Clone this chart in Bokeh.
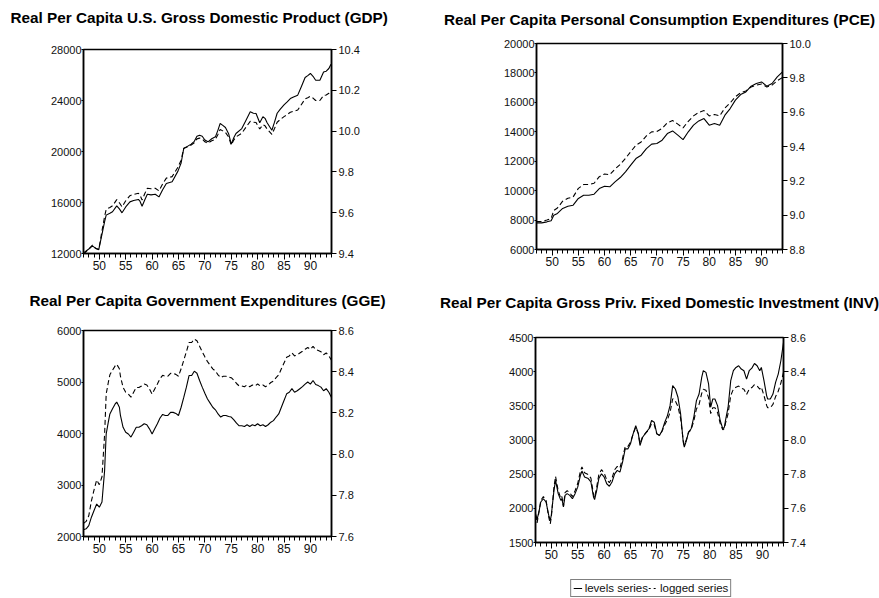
import numpy as np
from bokeh.plotting import figure
from bokeh.models import (Range1d, LinearAxis, FixedTicker, PrintfTickFormatter,
                          Legend, LegendItem, CustomJSTickFormatter, Spacer, Title)
from bokeh.layouts import column, row
from bokeh.embed import file_html
from bokeh.resources import INLINE

FONT = "Liberation Sans"

# ---------------- data (levels series; logged series = ln(levels)) ----------------
gdp_years = [1947.0, 1947.5, 1948.0, 1948.7, 1949.3, 1949.9, 1950.5, 1951.0, 1951.3, 1952.0,
             1952.5, 1953.3, 1953.8, 1954.3, 1955.0, 1955.8, 1956.5, 1957.4, 1957.7, 1958.1,
             1958.6, 1959.1, 1959.8, 1960.6, 1961.3, 1962.0, 1962.7, 1963.8, 1964.9, 1965.5,
             1966.0, 1966.7, 1967.4, 1968.0, 1968.5, 1969.0, 1969.5, 1970.0, 1970.6, 1971.3,
             1972.0, 1972.5, 1972.9, 1973.4, 1973.9, 1974.5, 1975.0, 1975.5, 1975.9, 1977.0,
             1977.8, 1978.6, 1979.2, 1979.7, 1980.4, 1981.0, 1981.4, 1981.8, 1982.7, 1983.2,
             1983.7, 1984.3, 1985.0, 1985.6, 1986.2, 1986.8, 1987.6, 1988.3, 1989.0, 1989.5,
             1990.0, 1990.5, 1991.0, 1991.8, 1992.5, 1993.0, 1993.5, 1993.9]
gdp_levels = [12050, 12200, 12350, 12600, 12400, 12320, 13500, 14500, 15010, 15150,
              15270, 15740, 15500, 15190, 15650, 16050, 16150, 16240, 16100, 15710,
              16200, 16650, 16600, 16650, 16440, 17000, 17490, 17620, 18460, 19100,
              20240, 20400, 20580, 20800, 21200, 21280, 21200, 20900, 20760, 21000,
              21150, 21700, 22200, 22050, 21880, 21400, 20580, 21100, 21410, 21800,
              22460, 23110, 23000, 22980, 22250, 22720, 22600, 22250, 21670, 22300,
              23000, 23320, 23650, 23890, 24150, 24280, 24420, 25100, 25800, 25950,
              26120, 25900, 25590, 25590, 26240, 26300, 26510, 26850]

pce_years = [1947.0, 1948.0, 1949.0, 1949.8, 1950.3, 1951.0, 1952.0, 1953.0, 1954.0, 1955.0,
             1956.0, 1957.0, 1958.0, 1959.0, 1960.0, 1961.0, 1962.0, 1963.0, 1964.0, 1965.0,
             1966.0, 1967.0, 1968.0, 1969.0, 1970.0, 1971.0, 1972.0, 1973.0, 1974.0, 1975.0,
             1976.0, 1977.0, 1978.0, 1979.0, 1980.0, 1981.0, 1982.0, 1983.0, 1984.0, 1985.0,
             1986.0, 1987.0, 1988.0, 1989.0, 1990.0, 1991.0, 1992.0, 1993.0, 1994.0]
pce_levels = [7810, 7810, 7880, 7950, 8330, 8450, 8790, 8940, 9010, 9470,
              9690, 9690, 9760, 10140, 10300, 10260, 10600, 10890, 11280, 11730,
              12180, 12410, 12860, 13160, 13200, 13430, 13880, 14060, 13770, 13470,
              14000, 14450, 14740, 14900, 14450, 14560, 14450, 15130, 15580, 16150,
              16530, 16710, 17100, 17280, 17390, 17100, 17280, 17730, 18070]

gge_years = [1947.0, 1947.5, 1948.0, 1948.5, 1949.0, 1949.5, 1950.0, 1950.5, 1951.0, 1951.3,
             1951.7, 1952.0, 1952.5, 1953.0, 1953.3, 1953.8, 1954.0, 1954.5, 1955.0, 1955.5,
             1956.0, 1956.5, 1957.0, 1957.5, 1958.0, 1958.5, 1959.0, 1959.5, 1960.0, 1960.5,
             1961.0, 1961.5, 1962.0, 1962.5, 1963.0, 1963.5, 1964.0, 1964.5, 1965.0, 1965.5,
             1966.0, 1966.5, 1967.0, 1967.5, 1968.0, 1968.5, 1969.0, 1969.5, 1970.0, 1970.5,
             1971.0, 1971.5, 1972.0, 1972.5, 1973.0, 1973.5, 1974.0, 1974.5, 1975.0, 1975.5,
             1976.0, 1976.5, 1977.0, 1977.5, 1978.0, 1978.5, 1979.0, 1979.5, 1980.0, 1980.5,
             1981.0, 1981.5, 1982.0, 1982.5, 1983.0, 1983.5, 1984.0, 1984.5, 1985.0, 1985.5,
             1986.0, 1986.5, 1987.0, 1987.5, 1988.0, 1988.5, 1989.0, 1989.5, 1990.0, 1990.5,
             1991.0, 1991.5, 1992.0, 1992.5, 1993.0, 1993.5, 1994.0]
gge_levels = [2130, 2150, 2210, 2375, 2505, 2630, 2570, 2670, 3280, 3990,
              4220, 4380, 4480, 4575, 4610, 4510, 4350, 4120, 4025, 3990,
              3930, 4025, 4120, 4120, 4150, 4190, 4170, 4090, 3990, 4090,
              4190, 4300, 4370, 4350, 4350, 4410, 4410, 4390, 4350, 4510,
              4700, 4900, 5125, 5125, 5210, 5170, 5030, 4900, 4780, 4670,
              4590, 4510, 4460, 4380, 4320, 4350, 4350, 4330, 4320, 4265,
              4200, 4150, 4150, 4135, 4170, 4135, 4170, 4150, 4190, 4150,
              4170, 4135, 4170, 4220, 4250, 4320, 4380, 4510, 4640, 4770,
              4800, 4870, 4800, 4830, 4870, 4910, 4960, 5000, 4960, 5030,
              4950, 4930, 4900, 4830, 4870, 4800, 4700]

inv_years = [1947.0, 1947.3, 1947.7, 1948.0, 1948.5, 1949.0, 1949.5, 1949.8, 1950.0, 1950.5,
             1950.8, 1951.3, 1951.8, 1952.0, 1952.3, 1952.6, 1953.0, 1953.5, 1954.0, 1954.5,
             1955.0, 1955.5, 1955.8, 1956.3, 1957.0, 1957.5, 1958.0, 1958.2, 1958.6, 1959.0,
             1959.5, 1960.0, 1960.5, 1961.0, 1961.5, 1962.0, 1962.5, 1963.0, 1963.5, 1964.0,
             1964.5, 1965.0, 1965.5, 1966.0, 1966.5, 1966.8, 1967.3, 1968.0, 1968.5, 1969.0,
             1969.5, 1970.0, 1970.5, 1971.0, 1971.5, 1972.0, 1972.5, 1973.0, 1973.5, 1974.0,
             1974.5, 1975.0, 1975.2, 1975.6, 1976.0, 1976.5, 1977.0, 1977.5, 1978.0, 1978.5,
             1978.8, 1979.3, 1979.8, 1980.2, 1980.6, 1981.0, 1981.5, 1982.0, 1982.5, 1982.8,
             1983.0, 1983.5, 1984.0, 1984.5, 1985.0, 1985.5, 1986.0, 1986.5, 1987.0, 1987.5,
             1988.0, 1988.5, 1989.0, 1989.5, 1989.8, 1990.3, 1990.8, 1991.0, 1991.5, 1992.0,
             1992.5, 1993.0, 1993.5, 1994.0]
inv_levels = [1923, 1835, 1970, 2093, 2140, 2093, 1900, 1825, 1900, 2263,
              2410, 2215, 2117, 2140, 2020, 2190, 2215, 2190, 2140, 2215,
              2310, 2480, 2545, 2460, 2435, 2385, 2165, 2127, 2263, 2435,
              2505, 2460, 2360, 2322, 2385, 2505, 2555, 2530, 2677, 2870,
              2870, 2945, 3090, 3211, 3090, 2920, 3040, 3115, 3165, 3285,
              3260, 3090, 3065, 3140, 3260, 3357, 3503, 3795, 3746, 3625,
              3382, 2970, 2895, 2990, 3115, 3165, 3333, 3576, 3673, 3916,
              4014, 3990, 3820, 3480, 3600, 3600, 3503, 3285, 3163, 3187,
              3285, 3480, 3868, 4014, 4062, 4087, 4038, 4014, 3892, 4014,
              4052, 4120, 4087, 4014, 4062, 3868, 3650, 3600, 3600, 3673,
              3843, 3965, 4160, 4427]

legend_labels = ["levels series", "logged series"]

x_major = [1950, 1955, 1960, 1965, 1970, 1975, 1980, 1985, 1990]
x_minor = list(range(1947, 1995))
X0, X1 = 1947, 1994
DASH = "5 3"


def make_panel(title, yrs, lev, lrange, lticks, rrange, rticks,
               width, height, bl, br, bt, bb, gap, align="center", toff=0):
    p = figure(width=width, height=height, x_range=Range1d(X0, X1),
               y_range=Range1d(*lrange), output_backend="svg", toolbar_location=None,
               title=None,
               min_border_left=bl, min_border_right=br, min_border_top=bt,
               min_border_bottom=bb, background_fill_color="white",
               border_fill_color="white", outline_line_color="black",
               outline_line_width=1.5, frame_align=False)
    # empty spacer panel between the frame and the title
    p.add_layout(Title(text=" ", text_font_size="1px", standoff=gap), "above")
    p.add_layout(Title(text=title, align=align, offset=toff, standoff=4,
                       vertical_align="bottom", text_font=FONT,
                       text_font_size="15.3px", text_font_style="bold",
                       text_color="black"), "above")
    p.extra_y_ranges = {"log": Range1d(*rrange)}
    p.grid.visible = False

    p.line(yrs, lev, line_color="black", line_width=1.1)
    p.line(yrs, np.log(np.array(lev, dtype=float)), y_range_name="log",
           line_color="black", line_width=1.1, line_dash=DASH)

    xa = p.xaxis[0]
    xa.ticker = FixedTicker(ticks=x_major, minor_ticks=x_minor)
    xa.formatter = CustomJSTickFormatter(code="return String(Math.round(tick) - 1900);")
    xa.major_tick_out = 6
    xa.major_tick_in = 0
    xa.minor_tick_out = 4
    xa.minor_tick_in = 0
    xa.major_label_standoff = 1

    ya = p.yaxis[0]
    ya.ticker = FixedTicker(ticks=lticks)
    ya.formatter = PrintfTickFormatter(format="%d")
    ya.major_tick_out = 2
    ya.major_tick_in = 0
    ya.minor_tick_out = 0
    ya.minor_tick_in = 0
    ya.major_label_standoff = 0

    ra = LinearAxis(y_range_name="log", ticker=FixedTicker(ticks=rticks),
                    formatter=PrintfTickFormatter(format="%.1f"))
    ra.major_tick_out = 5
    ra.major_tick_in = 0
    ra.minor_tick_out = 0
    ra.minor_tick_in = 0
    ra.major_label_standoff = 2
    p.add_layout(ra, "right")

    for ax in (xa, ya, ra):
        ax.axis_line_color = "black"
        ax.axis_line_width = 1.5
        ax.major_tick_line_color = "black"
        ax.minor_tick_line_color = "black"
        ax.major_label_text_font = FONT
        ax.major_label_text_font_size = "11px"
        ax.major_label_text_color = "#111111"
    xa.major_label_text_font_size = "12px"
    return p


p1 = make_panel("Real Per Capita U.S. Gross Domestic Product (GDP)",
                gdp_years, gdp_levels, (12000, 28000), [12000, 16000, 20000, 24000, 28000],
                (9.4, 10.4), [9.4, 9.6, 9.8, 10.0, 10.2, 10.4],
                438, 278, 83, 107, 49, 25, 19, align="left", toff=-73)
p2 = make_panel("Real Per Capita Personal Consumption Expenditures (PCE)",
                pce_years, pce_levels, (6000, 20000),
                [6000, 8000, 10000, 12000, 14000, 16000, 18000, 20000],
                (8.8, 10.0), [8.8, 9.0, 9.2, 9.4, 9.6, 9.8, 10.0],
                441, 278, 98, 97, 43, 29, 11)
p3 = make_panel("Real Per Capita Government Expenditures (GGE)",
                gge_years, gge_levels, (2000, 6000), [2000, 3000, 4000, 5000, 6000],
                (7.6, 8.6), [7.6, 7.8, 8.0, 8.2, 8.4, 8.6],
                438, 298, 83, 107, 52, 40, 17)
p4 = make_panel("Real Per Capita Gross Priv. Fixed Domestic Investment (INV)",
                inv_years, inv_levels, (1500, 4500),
                [1500, 2000, 2500, 3000, 3500, 4000, 4500],
                (7.4, 8.6), [7.4, 7.6, 7.8, 8.0, 8.2, 8.4, 8.6],
                441, 298, 97, 96, 59, 34, 22)

# legend strip below the INV panel; its sample lines lie outside its (0..1) ranges
pleg = figure(width=441, height=22, x_range=Range1d(0, 1), y_range=Range1d(0, 1),
              output_backend="svg", toolbar_location=None, x_axis_type=None,
              y_axis_type=None, min_border=0, outline_line_color=None,
              background_fill_color="white", border_fill_color="white")
pleg.grid.visible = False
g1 = pleg.line(inv_years, inv_levels, line_color="black", line_width=1.1)
g2 = pleg.line(inv_years, inv_levels, line_color="black", line_width=1.1, line_dash="2 3")
legend = Legend(items=[LegendItem(label=legend_labels[0], renderers=[g1]),
                       LegendItem(label=legend_labels[1], renderers=[g2])],
                orientation="horizontal", location="bottom",
                border_line_color="black", border_line_width=1,
                background_fill_color="white", background_fill_alpha=1,
                glyph_width=9, glyph_height=12, label_standoff=3, spacing=0,
                padding=2, margin=1, label_height=12,
                label_text_font=FONT, label_text_font_size="11.5px",
                label_text_color="#111111")
pleg.add_layout(legend)

layout = column(row(p1, p2), row(p3, p4),
                row(Spacer(width=430, height=22), pleg))
open("out.html", "w").write(file_html(layout, INLINE))
